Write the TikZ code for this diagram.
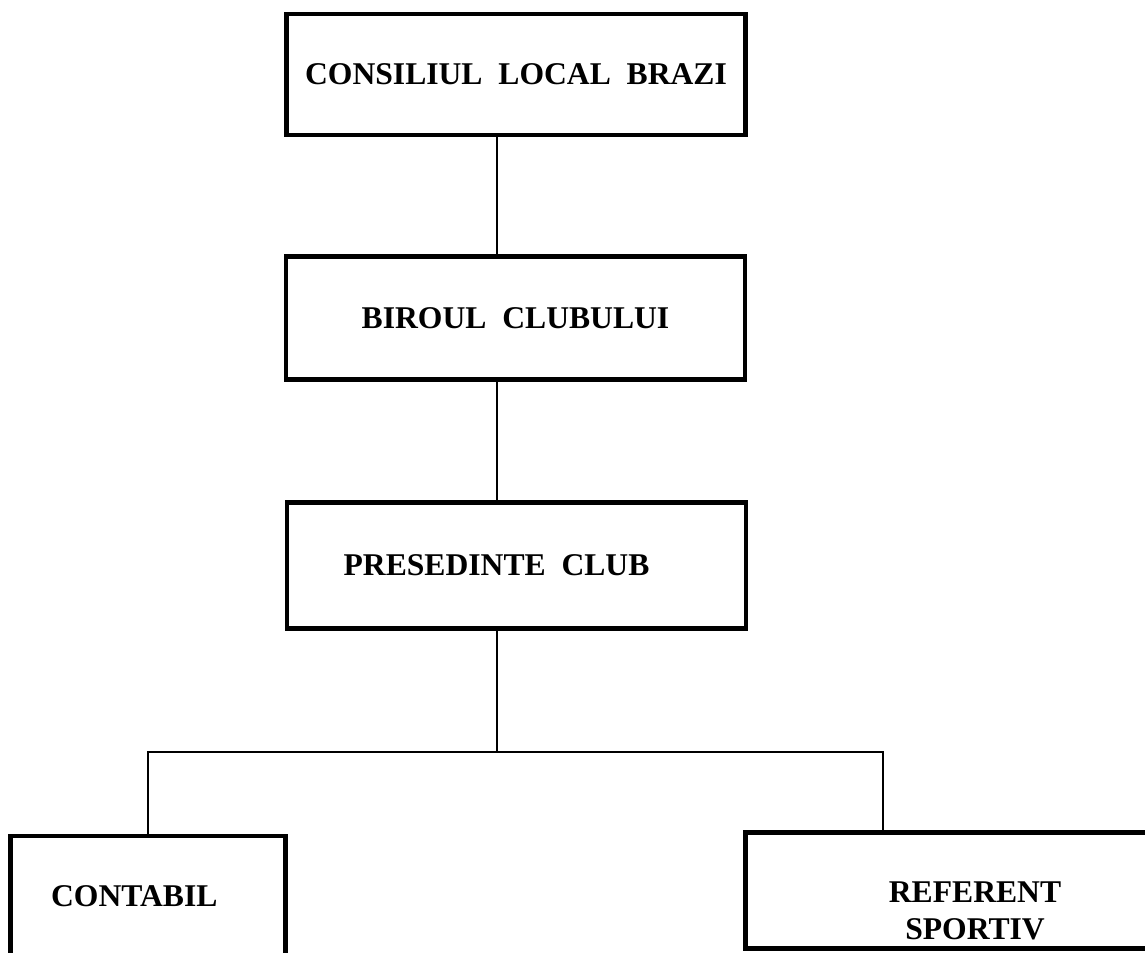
\documentclass[tikz,border=0pt]{standalone}
\usepackage{fontspec}
\setmainfont{Liberation Serif}
\usetikzlibrary{positioning}
\tikzset{
  post/.style={draw, line width=2.8pt, fill=white, minimum width=9.18cm,
    minimum height=2.42cm, inner sep=0pt, align=center,
    font=\fontsize{18}{21}\selectfont\bfseries},
  link/.style={line width=1.2pt}
}

\begin{document}
\begin{tikzpicture}
  \useasboundingbox (0,0) rectangle (22.9,-19.06);
  \clip (0,0) rectangle (22.9,-19.06);
  % the boxes
  \node[post] (consiliu) at (10.32,-1.49) {CONSILIUL\ \ LOCAL\ \ BRAZI};
  \node[post, minimum height=2.46cm] (birou) at (10.31,-6.36) {BIROUL\ \ CLUBULUI};
  \node[post, minimum height=2.52cm,
    label={[font=\fontsize{18}{21}\selectfont\bfseries, xshift=-0.4cm]center:PRESEDINTE\ \ CLUB}]
    (presedinte) at (10.33,-11.31) {};
  \node[post, minimum width=5.5cm] (contabil) at (2.96,-17.93)
    {CONTABIL\hspace*{0.55cm}};
  \node[post, minimum height=2.32cm,
    label={[font=\fontsize{18}{21}\selectfont\bfseries, align=center, yshift=-0.4cm]center:REFERENT\\SPORTIV}]
    (referent) at (19.5,-17.81) {};
  % the spine and the branch points
  \coordinate (spine) at (9.94,0);
  \coordinate (split) at (9.94,-15.04);
  \coordinate (refdrop) at (17.66,-15.04);
  % connectors
  \draw[link] (consiliu.south -| spine) -- (birou.north -| spine);
  \draw[link] (birou.south -| spine) -- (presedinte.north -| spine);
  \draw[link] (presedinte.south -| spine) -- (split);
  \draw[link] (contabil.north) |- (split) -- (refdrop) -- (refdrop |- referent.north);
\end{tikzpicture}
\end{document}
